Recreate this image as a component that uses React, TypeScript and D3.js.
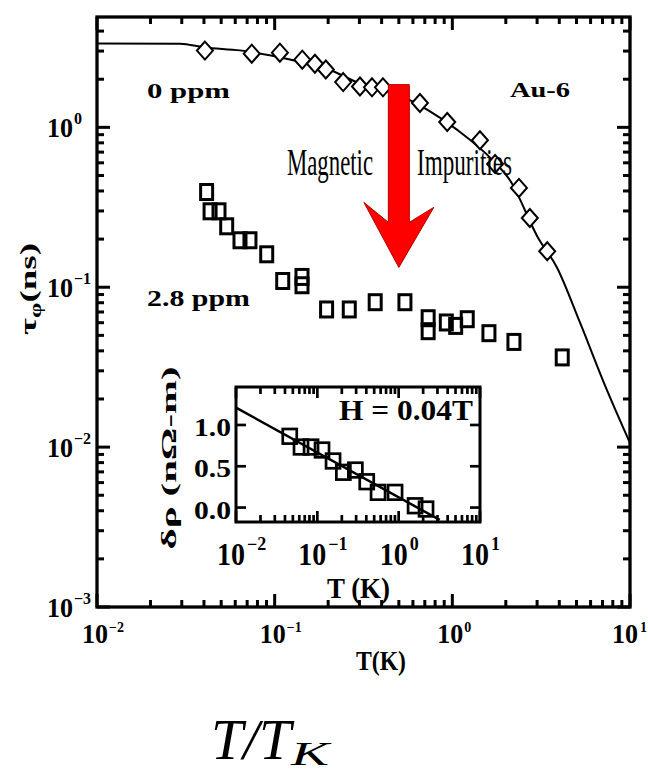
import React from "react";
import * as d3 from "d3";

const WIDTH = 648;
const HEIGHT = 773;

// 0 ppm (Au-6): dephasing time in ns vs T in K, open diamonds
const pureT = [0.0405, 0.0743, 0.107, 0.143, 0.1685, 0.194, 0.243, 0.302, 0.353, 0.407, 0.657, 0.936, 1.43, 1.74, 2.37, 2.73, 3.42];
const pureTau = [3.02, 2.89, 2.93, 2.65, 2.5, 2.3, 1.92, 1.8, 1.78, 1.78, 1.42, 1.08, 0.83, 0.59, 0.418, 0.271, 0.168];

// solid curve through the 0 ppm data
const fitT = [0.01, 0.0293, 0.0405, 0.0638, 0.122, 0.194, 0.302, 0.507, 0.729, 1.075, 1.69, 2.11, 3.03, 3.88, 5.22, 7.22, 10];
const fitTau = [3.34, 3.33, 3.16, 3.03, 2.66, 2.34, 1.88, 1.585, 1.28, 0.958, 0.622, 0.467, 0.205, 0.133, 0.0604, 0.0244, 0.0106];

// 2.8 ppm: open squares
const dopedT = [0.0414, 0.0433, 0.0486, 0.0537, 0.0638, 0.0726, 0.0902, 0.111, 0.1425, 0.1425, 0.196, 0.263, 0.368, 0.541, 0.731, 0.731, 0.925, 1.044, 1.213, 1.607, 2.222, 4.155];
const dopedTau = [0.394, 0.2985, 0.2985, 0.2405, 0.1967, 0.1967, 0.1607, 0.1094, 0.116, 0.1029, 0.0726, 0.0726, 0.0806, 0.0806, 0.064, 0.0531, 0.0602, 0.0573, 0.0631, 0.0516, 0.0455, 0.0364];

// inset: resistivity change at H = 0.04T
const insetT = [0.0458, 0.063, 0.0837, 0.1142, 0.156, 0.209, 0.2934, 0.405, 0.558, 0.903, 1.591, 2.17];
const insetDrho = [0.863, 0.733, 0.733, 0.697, 0.564, 0.427, 0.4545, 0.3127, 0.184, 0.184, 0.0218, -0.018];
const insetFitT = [0.01, 3.2];
const insetFitDrho = [1.21, -0.15];

const insetYTicks = [0, 0.5, 1];
const insetYLabels = ["0.0", "0.5", "1.0"];

// arrow annotation, in data units
const arrowT = 0.5;
const arrowTop = 1.85;
const arrowHead = 0.33;
const arrowTip = 0.133;

const BOLD = "'Liberation Serif', 'DejaVu Serif', serif";

const isDecade = (t: number) => Math.abs(Math.log10(t) - Math.round(Math.log10(t))) < 1e-6;
const expText = (t: number) => {
  const e = Math.round(Math.log10(t));
  return e < 0 ? "\u2212" + -e : String(e);
};

export default function App() {
  const x = d3.scaleLog().domain([0.01, 10]).range([97, 630]);
  const y = d3.scaleLog().domain([0.001, 4.9]).range([607, 17]);
  const [left, right] = x.range();
  const [bottom, top] = y.range();

  const ix = d3.scaleLog().domain([0.01, 10]).range([236, 480]);
  const iy = d3.scaleLinear().domain([-0.175, 1.46]).range([522, 387]);
  const [il, ir] = ix.range();
  const [ib, it] = iy.range();

  const fitLine = d3
    .line<number>()
    .x((_, i) => x(fitT[i]))
    .y((d) => y(d))
    .curve(d3.curveMonotoneX)(fitTau);

  const insetLine = d3
    .line<number>()
    .x((_, i) => ix(insetFitT[i]))
    .y((d) => iy(d))(insetFitDrho);

  // arrow polygon
  const ax = x(arrowT);
  const shaftW = 10.5;
  const headW = 35;
  const yHead = y(arrowHead);
  const arrowPts = [
    [ax - shaftW, y(arrowTop)],
    [ax + shaftW, y(arrowTop)],
    [ax + shaftW, yHead + 18],
    [ax + headW, yHead + 3],
    [ax, y(arrowTip)],
    [ax - headW, yHead - 2],
    [ax - shaftW, yHead + 18],
  ];

  return (
    <svg
      width={WIDTH}
      height={HEIGHT}
      style={{ position: "absolute", left: 0, top: 0, background: "#fff" }}
    >
      {/* main frame ticks */}
      <g stroke="#000" strokeWidth={3}>
        {x.ticks().map((t, i) => {
          const len = isDecade(t) ? 13 : 7;
          return (
            <g key={"xt" + i}>
              <line x1={x(t)} x2={x(t)} y1={bottom} y2={bottom - len} />
              <line x1={x(t)} x2={x(t)} y1={top} y2={top + len} />
            </g>
          );
        })}
        {y.ticks().map((t, i) => {
          const len = isDecade(t) ? 13 : 7;
          return (
            <g key={"yt" + i}>
              <line x1={left} x2={left + len} y1={y(t)} y2={y(t)} />
              <line x1={right} x2={right - len} y1={y(t)} y2={y(t)} />
            </g>
          );
        })}
      </g>
      <rect
        x={left}
        y={top}
        width={right - left}
        height={bottom - top}
        fill="none"
        stroke="#000"
        strokeWidth={3.3}
      />

      {/* main tick labels */}
      <g fontFamily={BOLD} fontWeight="bold" fill="#000">
        {x.ticks().filter(isDecade).map((t, i) => (
          <g key={"xl" + i}>
            <text x={Math.min(x(t) - 2, 625)} y={643} fontSize={28} textAnchor="middle" textLength={26} lengthAdjust="spacingAndGlyphs">
              10
            </text>
            <text x={Math.min(x(t) + 12, 640)} y={632} fontSize={14}>
              {expText(t)}
            </text>
          </g>
        ))}
        {y.ticks().filter(isDecade).map((t, i) => (
          <g key={"yl" + i}>
            <text x={73} y={y(t) + 10} fontSize={28} textAnchor="end" textLength={26} lengthAdjust="spacingAndGlyphs">
              10
            </text>
            <text x={74} y={y(t) - 3} fontSize={16}>
              {expText(t)}
            </text>
          </g>
        ))}
        <text x={381} y={670} fontSize={28} textAnchor="middle" textLength={50} lengthAdjust="spacingAndGlyphs">
          T(K)
        </text>
        <text
          transform="translate(36,289) rotate(-90)"
          fontSize={24}
          textAnchor="middle"
          textLength={92}
          lengthAdjust="spacingAndGlyphs"
        >
          {"\u03c4"}
          <tspan fontSize={16} dy={5}>{"\u03c6"}</tspan>
          <tspan dy={-5}>(ns)</tspan>
        </text>
        <text x={147} y={98} fontSize={22} textLength={83} lengthAdjust="spacingAndGlyphs">
          0 ppm
        </text>
        <text x={147} y={306} fontSize={23} textLength={103} lengthAdjust="spacingAndGlyphs">
          2.8 ppm
        </text>
        <text x={510} y={97} fontSize={22} textLength={60} lengthAdjust="spacingAndGlyphs">
          Au-6
        </text>
      </g>

      {/* fit curve and 0 ppm diamonds */}
      <path d={fitLine ?? ""} fill="none" stroke="#000" strokeWidth={2} />
      {pureT.map((t, i) => (
        <path
          key={"d" + i}
          d="M0,-9L8,0L0,9L-8,0Z"
          transform={`translate(${x(t)},${y(pureTau[i])})`}
          fill="#fff"
          stroke="#000"
          strokeWidth={2}
        />
      ))}

      {/* 2.8 ppm squares */}
      {dopedT.map((t, i) => (
        <rect
          key={"s" + i}
          x={x(t) - 6}
          y={y(dopedTau[i]) - 7.5}
          width={12}
          height={15}
          fill="none"
          stroke="#000"
          strokeWidth={3}
        />
      ))}

      {/* annotation */}
      <polygon
        points={arrowPts.map((p) => p.join(",")).join(" ")}
        fill="#ff0000"
        stroke="#b40000"
        strokeWidth={1}
      />
      <g fontFamily="'Liberation Serif', serif" fontSize={38} fill="#000">
        <text x={287} y={175} textLength={86} lengthAdjust="spacingAndGlyphs">
          Magnetic
        </text>
        <text x={417} y={175} textLength={95} lengthAdjust="spacingAndGlyphs">
          Impurities
        </text>
      </g>

      {/* inset */}
      <rect x={il} y={it} width={ir - il} height={ib - it} fill="#fff" />
      <g stroke="#000" strokeWidth={2.7}>
        {ix.ticks().map((t, i) => {
          const len = isDecade(t) ? 11 : 7;
          return (
            <g key={"ixt" + i}>
              <line x1={ix(t)} x2={ix(t)} y1={ib} y2={ib - len} />
              <line x1={ix(t)} x2={ix(t)} y1={it} y2={it + len} />
            </g>
          );
        })}
        {insetYTicks.map((v, i) => (
          <g key={"iyt" + i}>
            <line x1={il} x2={il + 10} y1={iy(v)} y2={iy(v)} />
            <line x1={ir} x2={ir - 10} y1={iy(v)} y2={iy(v)} />
          </g>
        ))}
      </g>
      <path d={insetLine ?? ""} fill="none" stroke="#000" strokeWidth={2.5} />
      {insetT.map((t, i) => (
        <rect
          key={"is" + i}
          x={ix(t) - 7}
          y={iy(insetDrho[i]) - 7.3}
          width={14}
          height={14.6}
          fill="none"
          stroke="#000"
          strokeWidth={2.7}
        />
      ))}
      <rect
        x={il}
        y={it}
        width={ir - il}
        height={ib - it}
        fill="none"
        stroke="#000"
        strokeWidth={3}
      />
      <g fontFamily={BOLD} fontWeight="bold" fill="#000">
        {ix.ticks().filter(isDecade).map((t, i) => (
          <g key={"ixl" + i}>
            <text x={ix(t) - 5} y={565} fontSize={31} textAnchor="middle" textLength={28} lengthAdjust="spacingAndGlyphs">
              10
            </text>
            <text x={ix(t) + 11} y={550} fontSize={18}>
              {expText(t)}
            </text>
          </g>
        ))}
        {insetYTicks.map((v, i) => (
          <text
            key={"iyl" + i}
            x={231}
            y={iy(v) + 11}
            fontSize={26}
            textAnchor="end"
            textLength={37}
            lengthAdjust="spacingAndGlyphs"
          >
            {insetYLabels[i]}
          </text>
        ))}
        <text x={339} y={420} fontSize={29} textLength={134} lengthAdjust="spacingAndGlyphs">
          H = 0.04T
        </text>
        <text x={327} y={598} fontSize={29} textLength={63} lengthAdjust="spacingAndGlyphs">
          T (K)
        </text>
        <text
          transform="translate(176,458) rotate(-90)"
          fontSize={22}
          textAnchor="middle"
          textLength={183}
          lengthAdjust="spacingAndGlyphs"
        >
          {"\u03b4\u03c1 (n\u03a9-m)"}
        </text>
      </g>

      {/* external axis label */}
      <g fontFamily="'Liberation Serif', serif" fontStyle="italic" fill="#000">
        <text x={211} y={759} fontSize={56} textLength={80} lengthAdjust="spacingAndGlyphs">
          T/T
        </text>
        <text x={291} y={765} fontSize={34} textLength={38} lengthAdjust="spacingAndGlyphs">
          K
        </text>
      </g>
    </svg>
  );
}
